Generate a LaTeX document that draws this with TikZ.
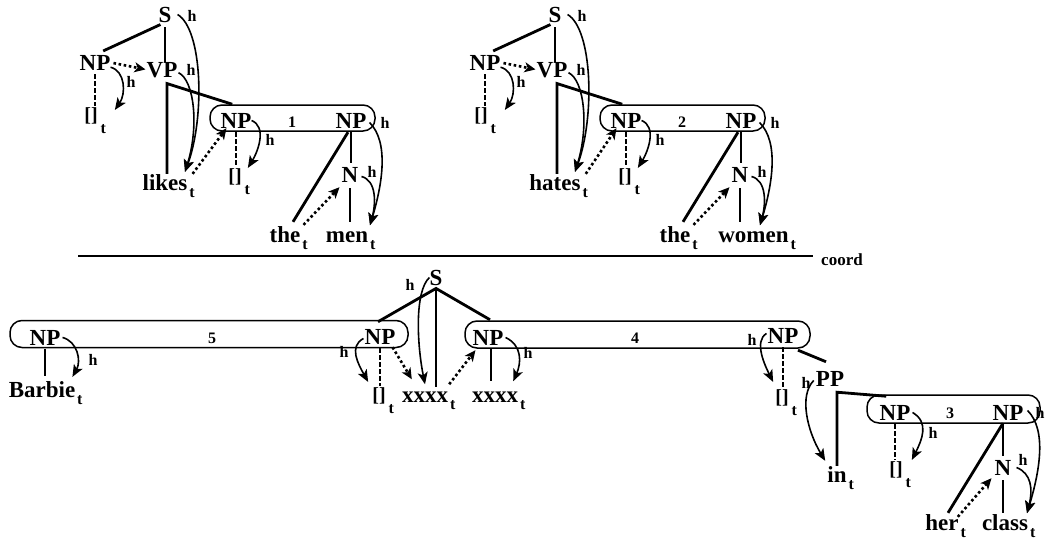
\documentclass[tikz,border=0pt]{standalone}
\usepackage{fontspec}
\setmainfont{Liberation Serif}
\usetikzlibrary{arrows.meta}
\newcommand\tsub{\rlap{\kern2pt\raisebox{-7pt}{\fontsize{16}{17}\selectfont t}}}
\newcommand\esub{\rlap{\kern3pt\raisebox{-12pt}{\fontsize{16}{17}\selectfont t}}}
\tikzset{
  lbl/.style={font=\fontsize{23}{25}\selectfont\bfseries, inner sep=0pt, anchor=base},
  hl/.style={font=\fontsize{16}{17}\selectfont\bfseries, inner sep=0pt, anchor=base},
  nl/.style={font=\fontsize{16}{17}\selectfont\bfseries, inner sep=0pt, anchor=base},
  el/.style={font=\fontsize{20}{22}\selectfont\bfseries, inner sep=0pt, anchor=base},
  br/.style={line width=2.8pt},
  tn/.style={line width=1.7pt},
  dsh/.style={line width=2pt, dash pattern=on 4.5pt off 2.5pt},
  dotar/.style={line width=2.6pt, dash pattern=on 2.6pt off 2.6pt, -{Stealth[length=11pt,width=10pt,inset=3pt]}},
  harr/.style={line width=1.6pt, -{Stealth[length=12pt,width=10pt,inset=3pt]}},
  bx/.style={draw, line width=1.5pt, rounded corners=12pt, inner sep=0pt},
}
\newcommand\mytoptree[6]{%
\begin{scope}[xshift=#2]
\node[lbl] (#1S) at (165,22) {S};
\node[hl] (#1hS) at (192,21) {h};
\node[lbl] (#1NP) at (95,70) {NP};
\node[hl] (#1hNP) at (131,87) {h};
\node[lbl] (#1VP) at (162,77) {VP};
\node[hl] (#1hVP) at (191,75) {h};
\node[el] (#1e) at (91,121) {[]\esub};
\node[lbl] (#1V) at (165,190) {#3\tsub};
\node[bx, minimum width=165pt, minimum height=26pt] (#1box) at (292.5,118) {};
\node[lbl] (#1NPl) at (236,128) {NP};
\node[nl] (#1num) at (292,127) {#4};
\node[lbl] (#1NPr) at (351,128) {NP};
\node[hl] (#1hNPl) at (270,145) {h};
\node[el] (#1el) at (235,182) {[]\esub};
\node[hl] (#1hNPr) at (385,128) {h};
\node[lbl] (#1N) at (350,182) {N};
\node[hl] (#1hN) at (372,177) {h};
\node[lbl] (#1the) at (285,242) {the\tsub};
\node[lbl] (#1noun) at (#6,242) {#5\tsub};
\draw[br, shorten <=5pt, shorten >=9pt] (#1S.south) -- (#1NP.north);
\draw[tn, shorten <=5pt] (#1S.south) -- (#1S.south |- #1VP.north);
\draw[dotar, shorten <=3pt, shorten >=1pt] (#1NP.east) -- (#1VP.west);
\draw[harr] ([shift={(0,-3)}]#1NP.south east) .. controls +(15,4) and +(11,-16) .. ([shift={(17,3)}]#1e.north east);
\draw[dsh, shorten <=4pt, shorten >=1pt] (#1NP.south) -- (#1NP.south |- #1e.north);
\coordinate (#1j) at ([shift={(5,6)}]#1VP.south);
\draw[br] ([xshift=23pt]#1box.north west) -- (#1j) -- (#1j |- #1V.north);
\draw[harr] ([shift={(6,0)}]#1S.east) .. controls +(25,15) and +(20,-55) .. ([shift={(20,-2)}]#1V.north);
\draw[harr] ([shift={(1,3)}]#1VP.east) .. controls +(16,8) and +(14,-45) .. ([shift={(20,-2)}]#1V.north);
\draw[dotar] ([shift={(5,0)}]#1V.north east) -- ([shift={(6,0)}]#1NPl.south west);
\draw[harr] (#1NPl.east) .. controls +(15,6) and +(11,-18) .. ([shift={(6,0)}]#1el.north east);
\draw[dsh, shorten <=4pt, shorten >=1pt] (#1NPl.south) -- (#1NPl.south |- #1el.north);
\draw[br] ([shift={(-3,4)}]#1NPr.south) -- ([shift={(8,-4)}]#1the.north);
\draw[tn, shorten <=4pt, shorten >=4pt] (#1NPr.south) -- (#1NPr.south |- #1N.north);
\draw[tn, shorten <=6pt, shorten >=9pt] (#1N.south) -- (#1N.south |- #1noun.north);
\draw[harr] ([shift={(3,2)}]#1NPr.east) .. controls +(20,20) and +(12,-40) .. ([shift={(20,43)}]#1N.south);
\draw[harr] ([shift={(3,2)}]#1N.east) .. controls +(15,4) and +(6,-22) .. ([shift={(20,43)}]#1N.south);
\draw[dotar] ([shift={(3,-1)}]#1the.north east) -- ([shift={(-2,5)}]#1N.south west);
\end{scope}}
\begin{document}
\begin{tikzpicture}[x=1pt,y=-1pt]
\fill[white] (0,0) rectangle (1048,546);
\useasboundingbox (0,0) rectangle (1048,546);
\mytoptree{a}{0pt}{likes}{1}{men}{347}
\mytoptree{b}{390pt}{hates}{2}{women}{363.5}
% coord line
\node[font=\fontsize{17}{18}\selectfont\bfseries, inner sep=0pt, anchor=base] (coord) at (842,265) {coord};
\coordinate (cl) at (78,256);
\draw[line width=1.8pt, shorten >=8pt] (cl) -- (cl -| coord.west);
% bottom boxes
\node[bx, minimum width=398pt, minimum height=27pt] (box5) at (209,334) {};
\node[bx, minimum width=345pt, minimum height=27pt] (box4) at (637.5,334.5) {};
\node[bx, minimum width=173pt, minimum height=28pt] (box3) at (953.5,409) {};
% bottom nodes
\node[lbl] (NPc) at (45,345) {NP};
\node[hl] (hNPc) at (93,365) {h};
\node[nl] (n5) at (212,343) {5};
\node[lbl] (Barbie) at (42,397) {Barbie\tsub};
\node[lbl] (NPd) at (380,344) {NP};
\node[hl] (hNPd) at (344,357) {h};
\node[el] (ed) at (379,401) {[]\esub};
\node[lbl] (xxa) at (425,402) {xxxx\tsub};
\node[lbl] (Sc) at (436,285) {S};
\node[hl] (hSc) at (410,290) {h};
\node[lbl] (NRd) at (488,345) {NP};
\node[hl] (hNRd) at (528,358) {h};
\node[lbl] (xxb) at (495,402) {xxxx\tsub};
\node[nl] (n4) at (635,343) {4};
\node[lbl] (NPe) at (783,343) {NP};
\node[hl] (hNPe) at (752,345) {h};
\node[el] (ee) at (782,403) {[]\esub};
\node[lbl] (PP) at (830,386) {PP};
\node[hl] (hPP) at (806,388) {h};
\node[lbl] (in) at (837,482) {in\tsub};
\node[lbl] (NRf) at (895,420) {NP};
\node[nl] (n3) at (950,418) {3};
\node[lbl] (NPg) at (1008,420) {NP};
\node[hl] (hNRf) at (933,438) {h};
\node[el] (ef) at (896,475) {[]\esub};
\node[lbl] (Ng) at (1003,475) {N};
\node[hl] (hNPg) at (1040,418) {h};
\node[hl] (hNg) at (1023,465) {h};
\node[lbl] (her) at (942,530) {her\tsub};
\node[lbl] (class) at (1005,530) {class\tsub};
% bottom edges
\draw[harr] ([shift={(2,0)}]NPc.east) .. controls +(15,4) and +(9,-16) .. ([shift={(-3,-4)}]Barbie.north east);
\draw[tn, shorten <=4pt, shorten >=5pt] (NPc.south) -- (NPc.south |- Barbie.north);
\coordinate (sj) at ([shift={(0,3)}]Sc.south);
\draw[br] ([shift={(-2,-7)}]NPd.north) -- (sj) -- ([shift={(2,-10)}]NRd.north);
\draw[tn, shorten >=4pt] (sj) -- (sj |- xxa.north);
\draw[harr] (Sc.west) .. controls +(-15,14) and +(-8,-40) .. ([shift={(0,-7)}]xxa.north);
\draw[harr] ([shift={(-1,2)}]NPd.west) .. controls +(-15,8) and +(-10,-18) .. ([shift={(-4,-5)}]ed.north west);
\draw[dsh, shorten <=4pt, shorten >=1pt] (NPd.south) -- (NPd.south |- ed.north);
\draw[dotar] ([shift={(-3,3)}]NPd.south east) -- ([shift={(10,-12)}]xxa.north west);
\draw[dotar] ([shift={(1,-7)}]xxa.north east) -- ([shift={(3,5)}]NRd.south west);
\draw[harr] ([shift={(2,0)}]NRd.east) .. controls +(17,8) and +(8,-18) .. ([shift={(-5,-10)}]xxb.north east);
\coordinate (nrdv) at ([shift={(3,0)}]NRd.south);
\draw[tn, shorten <=3pt, shorten >=10pt] (nrdv) -- (nrdv |- xxb.north);
\draw[harr] ([shift={(-1,-2)}]NPe.west) .. controls +(-13,8) and +(-8,-16) .. ([shift={(-2,-7)}]ee.north west);
\draw[dsh, shorten <=4pt, shorten >=1pt] (NPe.south) -- (NPe.south |- ee.north);
\draw[br] ([shift={(15,7)}]NPe.south) -- ([shift={(-4,-9)}]PP.north);
\coordinate (pj) at ([shift={(7,6)}]PP.south);
\draw[br] ([shift={(20,2)}]box3.north west) -- (pj) -- (pj |- in.north);
\draw[harr] ([shift={(-2,2)}]PP.west) .. controls +(-15,15) and +(-18,-30) .. ([shift={(-2,-5)}]in.north west);
\draw[harr] ([shift={(2,0)}]NRf.east) .. controls +(17,10) and +(10,-20) .. ([shift={(9,-1)}]ef.north east);
\draw[dsh, shorten <=4pt, shorten >=1pt] (NRf.south) -- (NRf.south |- ef.north);
\draw[br] ([shift={(-5,3)}]NPg.south) -- ([shift={(6,-1)}]her.north);
\coordinate (ngv) at (Ng.north |- NPg.south);
\draw[tn, shorten <=3pt, shorten >=4pt] (ngv) -- (Ng.north);
\draw[tn, shorten <=5pt, shorten >=1pt] (Ng.south) -- (Ng.south |- class.north);
\draw[harr] ([shift={(4,-2)}]NPg.east) .. controls +(20,20) and +(12,-40) .. ([shift={(24,38)}]Ng.south);
\draw[harr] ([shift={(5,0)}]Ng.east) .. controls +(15,6) and +(6,-24) .. ([shift={(24,38)}]Ng.south);
\draw[dotar] ([shift={(-1,3)}]her.north east) -- ([shift={(-3,3)}]Ng.south west);
\end{tikzpicture}
\end{document}
